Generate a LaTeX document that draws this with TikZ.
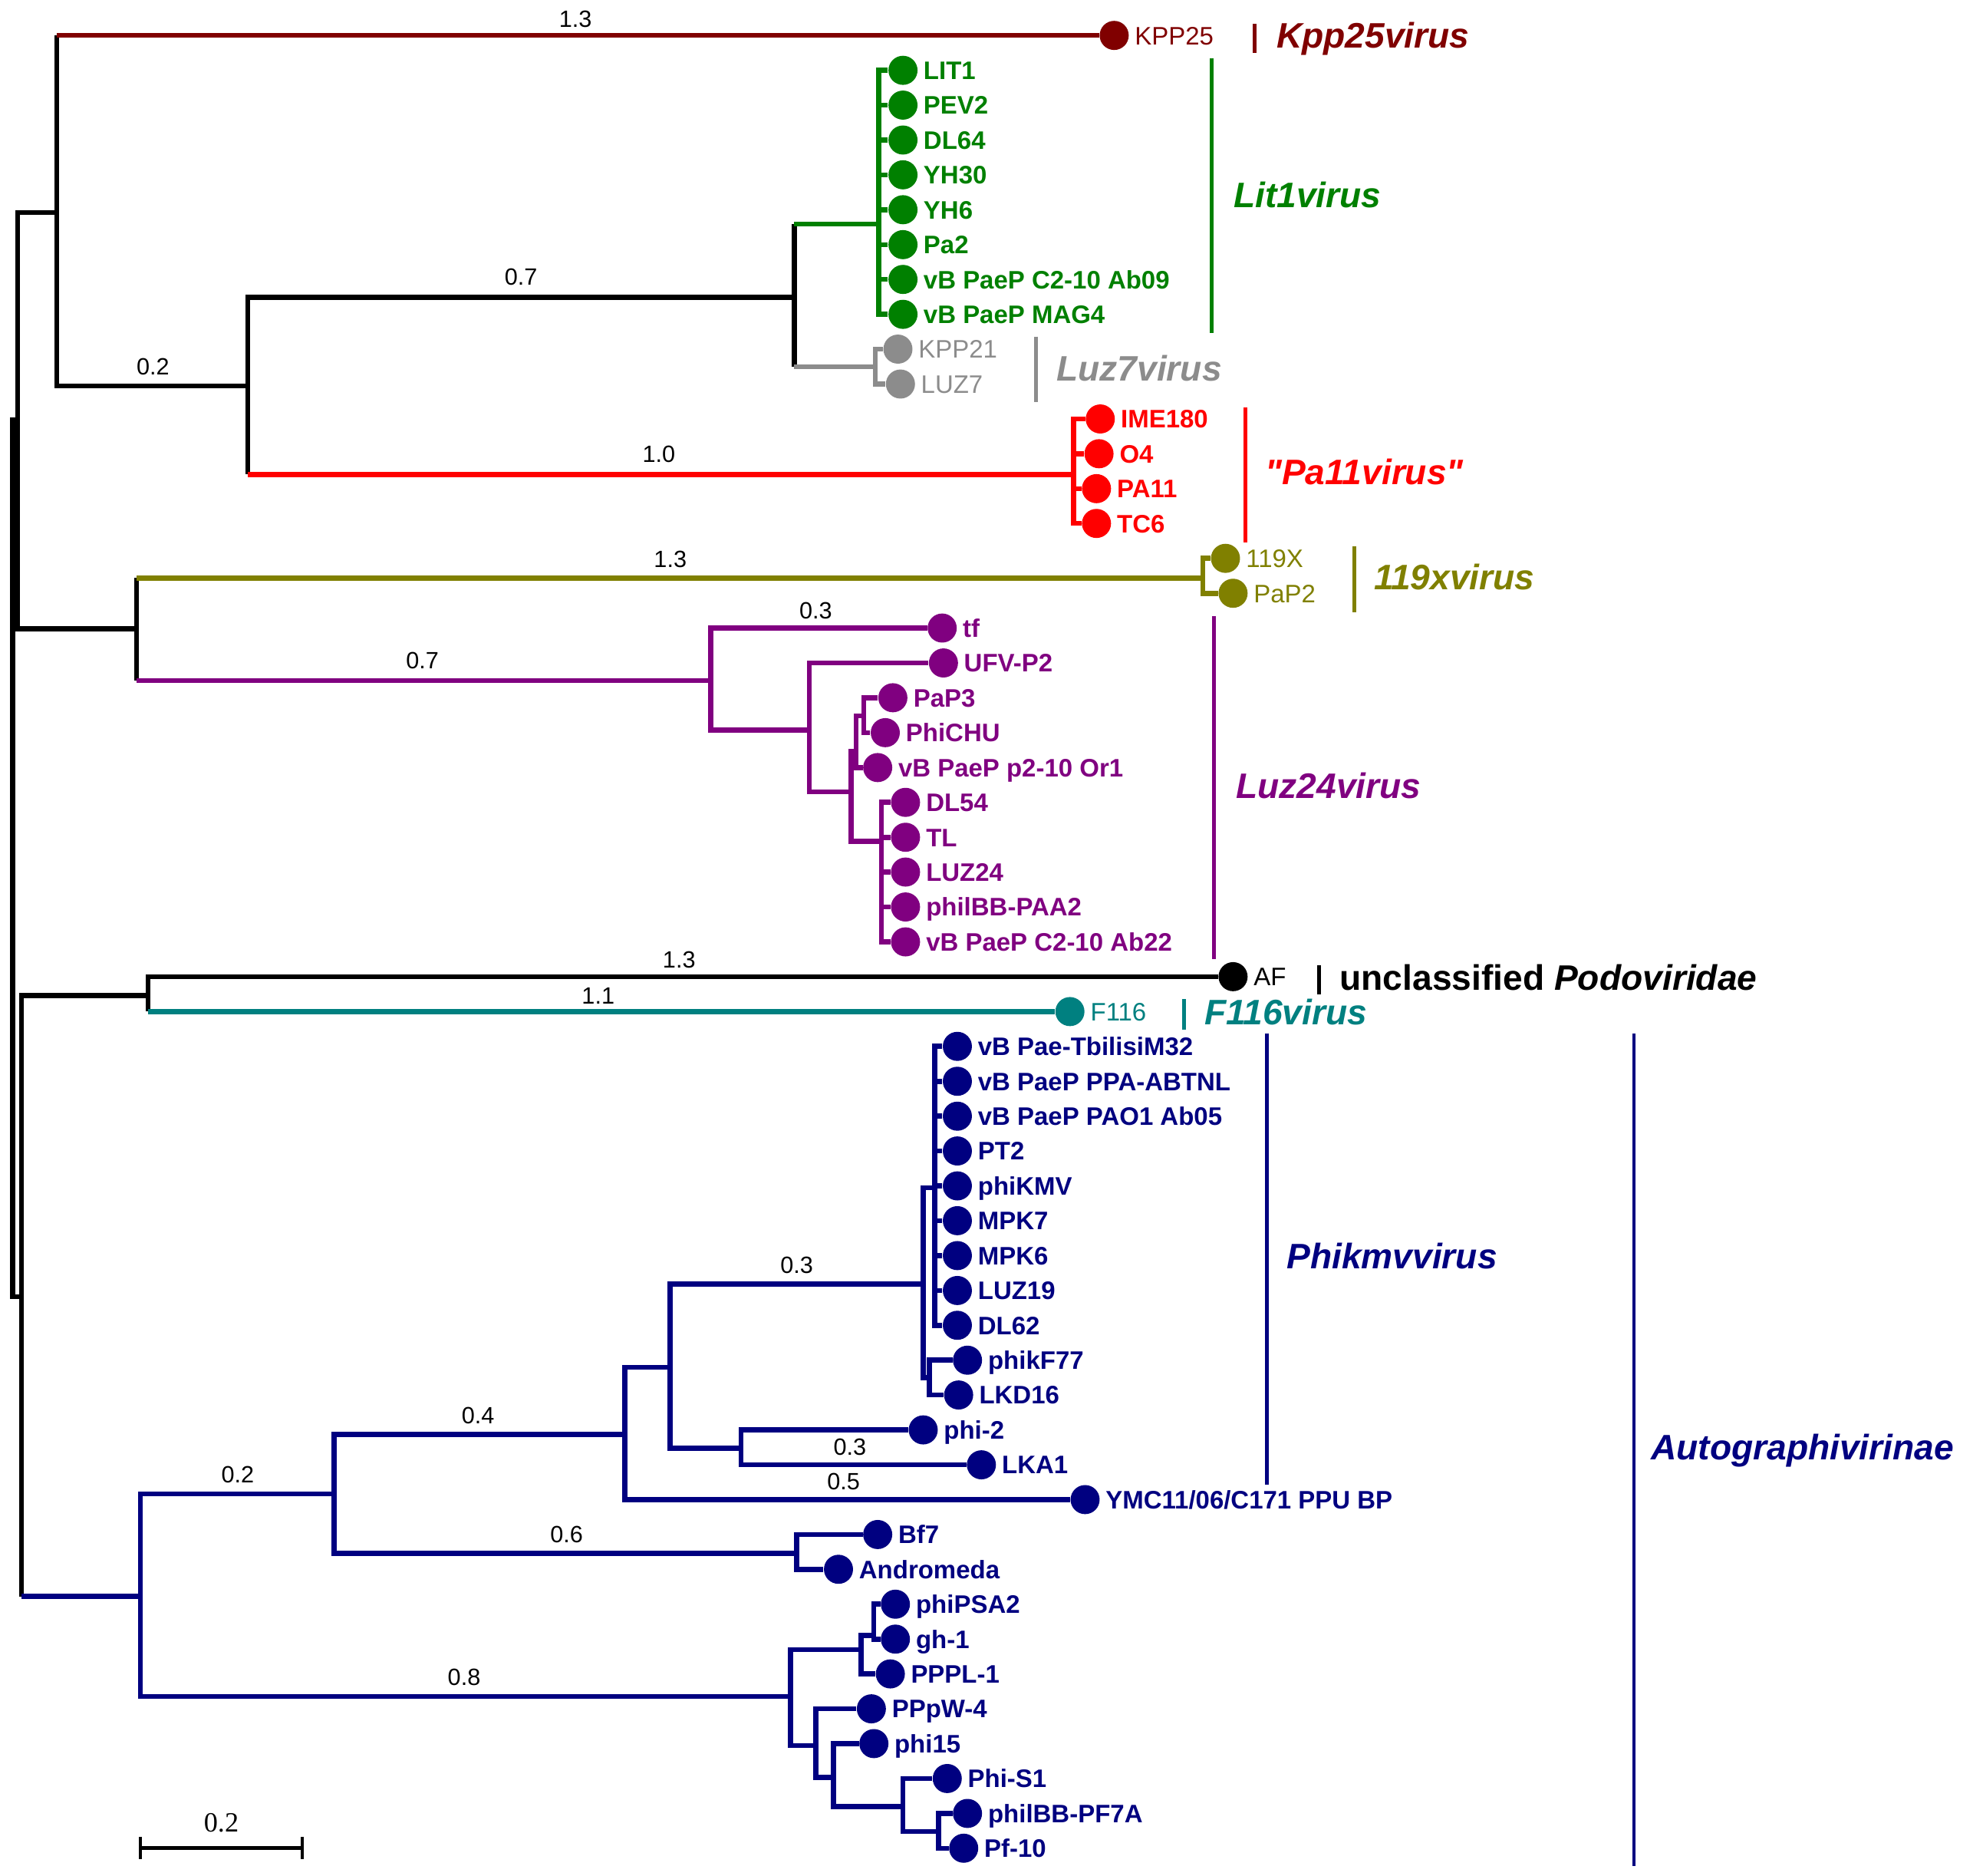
\documentclass[tikz,border=0pt]{standalone}
\usepackage{fontspec}
\setmainfont{Liberation Sans}[Ligatures=TeXOff]
\newfontfamily\barfont{Liberation Serif}
\usetikzlibrary{positioning}

\definecolor{kppred}{RGB}{128,0,0}
\definecolor{litgreen}{RGB}{0,128,0}
\definecolor{luzgray}{RGB}{140,140,140}
\definecolor{pared}{RGB}{255,0,0}
\definecolor{olive119}{RGB}{128,128,0}
\definecolor{luzpurple}{RGB}{128,0,128}
\definecolor{fteal}{RGB}{0,128,128}
\definecolor{phinavy}{RGB}{0,0,128}

\tikzset{
  br/.style={line width=2pt},
  grpbar/.style={line width=1.5pt},
  leafdot/.style={circle, fill=#1, inner sep=0pt, minimum size=11.5pt},
  leaflab/.style={text=#1, font=\fontsize{10}{12}\selectfont\bfseries, inner sep=1pt, text height=7.2pt, text depth=0pt},
  leafreg/.style={text=#1, font=\fontsize{10}{12}\selectfont, inner sep=1pt, text height=7.2pt, text depth=0pt},
  grplab/.style={text=#1, font=\fontsize{14}{16}\selectfont\bfseries\itshape, anchor=west, inner sep=0pt, text height=10pt, text depth=0pt},
  lenlab/.style={font=\fontsize{9.3}{11}\selectfont, inner sep=0pt},
}

\begin{document}
\begin{tikzpicture}[x=0.5pt, y=-0.5pt]
        \useasboundingbox (0,0) rectangle (1568,1483);

        % leaves
        \node[leafdot=kppred] (kpp25) at (881,28) {}; \node[leafreg=kppred, right=1pt of kpp25] (kpp25-t) {KPP25};

        \node[leafdot=litgreen] (lit1) at (714,55.6) {}; \node[leaflab=litgreen, right=1pt of lit1] (lit1-t) {LIT1};
        \node[leafdot=litgreen] (pev2) at (714,83.1) {}; \node[leaflab=litgreen, right=1pt of pev2] (pev2-t) {PEV2};
        \node[leafdot=litgreen] (dl64) at (714,110.7) {}; \node[leaflab=litgreen, right=1pt of dl64] (dl64-t) {DL64};
        \node[leafdot=litgreen] (yh30) at (714,138.2) {}; \node[leaflab=litgreen, right=1pt of yh30] (yh30-t) {YH30};
        \node[leafdot=litgreen] (yh6) at (714,165.8) {}; \node[leaflab=litgreen, right=1pt of yh6] (yh6-t) {YH6};
        \node[leafdot=litgreen] (pa2) at (714,193.4) {}; \node[leaflab=litgreen, right=1pt of pa2] (pa2-t) {Pa2};
        \node[leafdot=litgreen] (ab09) at (714,220.9) {}; \node[leaflab=litgreen, right=1pt of ab09] (ab09-t) {vB PaeP C2-10 Ab09};
        \node[leafdot=litgreen] (mag4) at (714,248.5) {}; \node[leaflab=litgreen, right=1pt of mag4] (mag4-t) {vB PaeP MAG4};

        \node[leafdot=luzgray] (kpp21) at (710,276) {}; \node[leafreg=luzgray, right=1pt of kpp21] (kpp21-t) {KPP21};
        \node[leafdot=luzgray] (luz7) at (712,303.6) {}; \node[leafreg=luzgray, right=1pt of luz7] (luz7-t) {LUZ7};

        \node[leafdot=pared] (ime180) at (870,331.2) {}; \node[leaflab=pared, right=1pt of ime180] (ime180-t) {IME180};
        \node[leafdot=pared] (o4) at (869,358.7) {}; \node[leaflab=pared, right=1pt of o4] (o4-t) {O4};
        \node[leafdot=pared] (pa11) at (867,386.3) {}; \node[leaflab=pared, right=1pt of pa11] (pa11-t) {PA11};
        \node[leafdot=pared] (tc6) at (867,413.8) {}; \node[leaflab=pared, right=1pt of tc6] (tc6-t) {TC6};

        \node[leafdot=olive119] (x119) at (969,441.4) {}; \node[leafreg=olive119, right=1pt of x119] (x119-t) {119X};
        \node[leafdot=olive119] (pap2) at (975,469) {}; \node[leafreg=olive119, right=1pt of pap2] (pap2-t) {PaP2};

        \node[leafdot=luzpurple] (tf) at (745,496.5) {}; \node[leaflab=luzpurple, right=1pt of tf] (tf-t) {tf};
        \node[leafdot=luzpurple] (ufvp2) at (746,524.1) {}; \node[leaflab=luzpurple, right=1pt of ufvp2] (ufvp2-t) {UFV-P2};
        \node[leafdot=luzpurple] (pap3) at (706,551.6) {}; \node[leaflab=luzpurple, right=1pt of pap3] (pap3-t) {PaP3};
        \node[leafdot=luzpurple] (phichu) at (700,579.2) {}; \node[leaflab=luzpurple, right=1pt of phichu] (phichu-t) {PhiCHU};
        \node[leafdot=luzpurple] (or1) at (694,606.8) {}; \node[leaflab=luzpurple, right=1pt of or1] (or1-t) {vB PaeP p2-10 Or1};
        \node[leafdot=luzpurple] (dl54) at (716,634.3) {}; \node[leaflab=luzpurple, right=1pt of dl54] (dl54-t) {DL54};
        \node[leafdot=luzpurple] (tl) at (716,661.9) {}; \node[leaflab=luzpurple, right=1pt of tl] (tl-t) {TL};
        \node[leafdot=luzpurple] (luz24) at (716,689.4) {}; \node[leaflab=luzpurple, right=1pt of luz24] (luz24-t) {LUZ24};
        \node[leafdot=luzpurple] (paa2) at (716,717) {}; \node[leaflab=luzpurple, right=1pt of paa2] (paa2-t) {philBB-PAA2};
        \node[leafdot=luzpurple] (ab22) at (716,744.6) {}; \node[leaflab=luzpurple, right=1pt of ab22] (ab22-t) {vB PaeP C2-10 Ab22};

        \node[leafdot=black] (af) at (975,772.1) {}; \node[leafreg=black, right=1pt of af] (af-t) {AF};
        \node[leafdot=fteal] (f116) at (846,799.7) {}; \node[leafreg=fteal, right=1pt of f116] (f116-t) {F116};

        \node[leafdot=phinavy] (tbil) at (757,827.2) {}; \node[leaflab=phinavy, right=1pt of tbil] (tbil-t) {vB Pae-TbilisiM32};
        \node[leafdot=phinavy] (ppa) at (757,854.8) {}; \node[leaflab=phinavy, right=1pt of ppa] (ppa-t) {vB PaeP PPA-ABTNL};
        \node[leafdot=phinavy] (pao1) at (757,882.4) {}; \node[leaflab=phinavy, right=1pt of pao1] (pao1-t) {vB PaeP PAO1 Ab05};
        \node[leafdot=phinavy] (pt2) at (757,909.9) {}; \node[leaflab=phinavy, right=1pt of pt2] (pt2-t) {PT2};
        \node[leafdot=phinavy] (phikmv) at (757,937.5) {}; \node[leaflab=phinavy, right=1pt of phikmv] (phikmv-t) {phiKMV};
        \node[leafdot=phinavy] (mpk7) at (757,965) {}; \node[leaflab=phinavy, right=1pt of mpk7] (mpk7-t) {MPK7};
        \node[leafdot=phinavy] (mpk6) at (757,992.6) {}; \node[leaflab=phinavy, right=1pt of mpk6] (mpk6-t) {MPK6};
        \node[leafdot=phinavy] (luz19) at (757,1020.2) {}; \node[leaflab=phinavy, right=1pt of luz19] (luz19-t) {LUZ19};
        \node[leafdot=phinavy] (dl62) at (757,1047.7) {}; \node[leaflab=phinavy, right=1pt of dl62] (dl62-t) {DL62};
        \node[leafdot=phinavy] (phikf77) at (765,1075.3) {}; \node[leaflab=phinavy, right=1pt of phikf77] (phikf77-t) {phikF77};
        \node[leafdot=phinavy] (lkd16) at (758,1102.8) {}; \node[leaflab=phinavy, right=1pt of lkd16] (lkd16-t) {LKD16};
        \node[leafdot=phinavy] (phi2) at (730,1130.4) {}; \node[leaflab=phinavy, right=1pt of phi2] (phi2-t) {phi-2};
        \node[leafdot=phinavy] (lka1) at (776,1158) {}; \node[leaflab=phinavy, right=1pt of lka1] (lka1-t) {LKA1};
        \node[leafdot=phinavy] (ymc) at (858,1185.5) {}; \node[leaflab=phinavy, right=1pt of ymc] (ymc-t) {YMC11/06/C171 PPU BP};
        \node[leafdot=phinavy] (bf7) at (694,1213.1) {}; \node[leaflab=phinavy, right=1pt of bf7] (bf7-t) {Bf7};
        \node[leafdot=phinavy] (andro) at (663,1240.6) {}; \node[leaflab=phinavy, right=1pt of andro] (andro-t) {Andromeda};
        \node[leafdot=phinavy] (phipsa2) at (708,1268.2) {}; \node[leaflab=phinavy, right=1pt of phipsa2] (phipsa2-t) {phiPSA2};
        \node[leafdot=phinavy] (gh1) at (708,1295.8) {}; \node[leaflab=phinavy, right=1pt of gh1] (gh1-t) {gh-1};
        \node[leafdot=phinavy] (pppl1) at (704,1323.3) {}; \node[leaflab=phinavy, right=1pt of pppl1] (pppl1-t) {PPPL-1};
        \node[leafdot=phinavy] (ppw4) at (689,1350.9) {}; \node[leaflab=phinavy, right=1pt of ppw4] (ppw4-t) {PPpW-4};
        \node[leafdot=phinavy] (phi15) at (691,1378.4) {}; \node[leaflab=phinavy, right=1pt of phi15] (phi15-t) {phi15};
        \node[leafdot=phinavy] (phis1) at (749,1406) {}; \node[leaflab=phinavy, right=1pt of phis1] (phis1-t) {Phi-S1};
        \node[leafdot=phinavy] (pf7a) at (765,1433.6) {}; \node[leaflab=phinavy, right=1pt of pf7a] (pf7a-t) {philBB-PF7A};
        \node[leafdot=phinavy] (pf10) at (762,1461.1) {}; \node[leaflab=phinavy, right=1pt of pf10] (pf10-t) {Pf-10};

        % inner nodes
        \coordinate (root) at (10,1025);
        \coordinate (nU) at (14,332);
        \coordinate (nA) at (45,168);
        \coordinate (nC) at (196,305);
        \coordinate (nD) at (628,235);
        \coordinate (nG) at (695,177);
        \coordinate (nGr) at (692,290);
        \coordinate (nE) at (849,375);
        \coordinate (nB) at (108,497);
        \coordinate (nX) at (951,457);
        \coordinate (nP) at (562,538);
        \coordinate (nP2) at (640,577);
        \coordinate (nP3) at (673,626);
        \coordinate (nP4) at (677,594);
        \coordinate (nP5) at (683,566);
        \coordinate (nP6) at (697,665);
        \coordinate (nL) at (17,1025);
        \coordinate (nM) at (117,787);
        \coordinate (nN) at (111,1262);
        \coordinate (nQ) at (264,1181);
        \coordinate (nS) at (494,1134);
        \coordinate (nV) at (530,1081);
        \coordinate (nK) at (730,1015);
        \coordinate (nK1) at (739,939);
        \coordinate (nK2) at (735,1089);
        \coordinate (nW) at (586,1145);
        \coordinate (nT) at (630,1228);
        \coordinate (nR) at (625,1341);
        \coordinate (nR1) at (681,1304);
        \coordinate (nR1a) at (691,1293);
        \coordinate (nR2) at (645,1380);
        \coordinate (nR3) at (659,1405);
        \coordinate (nR4) at (714,1428);
        \coordinate (nR5) at (742,1448);

        % backbone
        \draw[br] (nU) -- (root |- nU) -- (root |- nL) -- (nL);
        \draw[br] (nA) -| (nU) |- (nB);
        \draw[br] (nA |- kpp25) -- (nA |- nC) -- (nC);
        \draw[br, kppred] (nA |- kpp25) -- (kpp25);
        \draw[br] (nD) -| (nC) -- (nC |- nE);
        \draw[br, pared] (nC |- nE) -- (nE);
        \draw[br] (nD |- nG) -- (nD |- nGr);
        \draw[br, litgreen] (nD |- nG) -- (nG);
        \draw[br, luzgray] (nD |- nGr) -- (nGr);

        \draw[br, litgreen] (lit1) -| (nG) |- (mag4);
        \draw[br, litgreen] (nG |- pev2) -- (pev2) (nG |- dl64) -- (dl64) (nG |- yh30) -- (yh30) (nG |- yh6) -- (yh6) (nG |- pa2) -- (pa2) (nG |- ab09) -- (ab09);
        \draw[br, luzgray] (kpp21) -| (nGr) |- (luz7);
        \draw[br, pared] (ime180) -| (nE) |- (tc6);
        \draw[br, pared] (nE |- o4) -- (o4) (nE |- pa11) -- (pa11);

        \draw[br] (nB |- nX) -- (nB |- nP);
        \draw[br, olive119] (nB |- nX) -- (nX);
        \draw[br, luzpurple] (nB |- nP) -- (nP);
        \draw[br, olive119] (x119) -| (nX) |- (pap2);
        \draw[br, luzpurple] (tf) -| (nP) |- (nP2);
        \draw[br, luzpurple] (ufvp2) -| (nP2) |- (nP3);
        \draw[br, luzpurple] (nP4) -| (nP3) |- (nP6);
        \draw[br, luzpurple] (nP5) -| (nP4) |- (or1);
        \draw[br, luzpurple] (pap3) -| (nP5) |- (phichu);
        \draw[br, luzpurple] (dl54) -| (nP6) |- (ab22);
        \draw[br, luzpurple] (nP6 |- tl) -- (tl) (nP6 |- luz24) -- (luz24) (nP6 |- paa2) -- (paa2);

        \draw[br] (nM) -| (nL) -- (nL |- nN);
        \draw[br, phinavy] (nL |- nN) -- (nN);
        \draw[br] (af) -| (nM) -- (nM |- f116);
        \draw[br, fteal] (nM |- f116) -- (f116);

        \draw[br, phinavy] (nQ) -| (nN) |- (nR);
        \draw[br, phinavy] (nS) -| (nQ) |- (nT);
        \draw[br, phinavy] (nV) -| (nS) |- (ymc);
        \draw[br, phinavy] (nK) -| (nV) |- (nW);
        \draw[br, phinavy] (nK1) -| (nK) |- (nK2);
        \draw[br, phinavy] (tbil) -| (nK1) |- (dl62);
        \draw[br, phinavy] (nK1 |- ppa) -- (ppa) (nK1 |- pao1) -- (pao1) (nK1 |- pt2) -- (pt2) (nK1 |- phikmv) -- (phikmv) (nK1 |- mpk7) -- (mpk7) (nK1 |- mpk6) -- (mpk6) (nK1 |- luz19) -- (luz19);
        \draw[br, phinavy] (phikf77) -| (nK2) |- (lkd16);
        \draw[br, phinavy] (phi2) -| (nW) |- (lka1);
        \draw[br, phinavy] (bf7) -| (nT) |- (andro);
        \draw[br, phinavy] (nR1) -| (nR) |- (nR2);
        \draw[br, phinavy] (nR1a) -| (nR1) |- (pppl1);
        \draw[br, phinavy] (phipsa2) -| (nR1a) |- (gh1);
        \draw[br, phinavy] (ppw4) -| (nR2) |- (nR3);
        \draw[br, phinavy] (phi15) -| (nR3) |- (nR4);
        \draw[br, phinavy] (phis1) -| (nR4) |- (nR5);
        \draw[br, phinavy] (pf7a) -| (nR5) |- (pf10);

        % branch lengths
        \node[lenlab] (len-kpp25) at (455,15) {1.3};
        \node[lenlab] (len-d) at (412,219) {0.7};
        \node[lenlab] (len-c) at (121,290) {0.2};
        \node[lenlab] (len-e) at (521,359) {1.0};
        \node[lenlab] (len-x) at (530,442) {1.3};
        \node[lenlab] (len-tf) at (645,483) {0.3};
        \node[lenlab] (len-p) at (334,522) {0.7};
        \node[lenlab] (len-af) at (537,759) {1.3};
        \node[lenlab] (len-f116) at (473,787) {1.1};
        \node[lenlab] (len-k) at (630,1000) {0.3};
        \node[lenlab] (len-s) at (378,1119) {0.4};
        \node[lenlab] (len-lka1) at (672,1144) {0.3};
        \node[lenlab] (len-q) at (188,1166) {0.2};
        \node[lenlab] (len-ymc) at (667,1171) {0.5};
        \node[lenlab] (len-t) at (448,1213) {0.6};
        \node[lenlab] (len-r) at (367,1326) {0.8};

        % scale bar
        \draw[line width=1.5pt] (111,1461) -- (239,1461);
        \draw[line width=1.5pt] (111,1452) -- (111,1470);
        \draw[line width=1.5pt] (239,1452) -- (239,1470);
        \node[font=\barfont\fontsize{11}{13}\selectfont, inner sep=0pt] (scale-t) at (175,1441) {0.2};

        % groups
        \draw[grpbar, kppred] (992,19) -- (992,42);
        \node[grplab=kppred] (g-kpp25) at (1009,28) {Kpp25virus};
        \draw[grpbar, litgreen] (958,46) -- (958,263);
        \node[grplab=litgreen] (g-lit1) at (975,154) {Lit1virus};
        \draw[grpbar, luzgray] (819,266) -- (819,318);
        \node[grplab=luzgray] (g-luz7) at (835,291) {Luz7virus};
        \draw[grpbar, pared] (985,322) -- (985,429);
        \node[grplab=pared] (g-pa11) at (1000,373) {"Pa11virus"};
        \draw[grpbar, olive119] (1071,432) -- (1071,484);
        \node[grplab=olive119] (g-119x) at (1086,456) {119xvirus};
        \draw[grpbar, luzpurple] (960,487) -- (960,758);
        \node[grplab=luzpurple] (g-luz24) at (977,621) {Luz24virus};
        \draw[grpbar] (1043,763) -- (1043,786);
        \node[grplab=black, font=\fontsize{14}{16}\selectfont\bfseries] (g-podo) at (1059,773) {unclassified \textit{Podoviridae}};
        \draw[grpbar, fteal] (936,790) -- (936,814);
        \node[grplab=fteal] (g-f116) at (952,800) {F116virus};
        \draw[grpbar, phinavy] (1002,817) -- (1002,1174);
        \node[grplab=phinavy] (g-phikmv) at (1017,993) {Phikmvvirus};
        \draw[grpbar, phinavy] (1292,817) -- (1292,1475);
        \node[grplab=phinavy] (g-autog) at (1305,1144) {Autographivirinae};
\end{tikzpicture}
\end{document}
